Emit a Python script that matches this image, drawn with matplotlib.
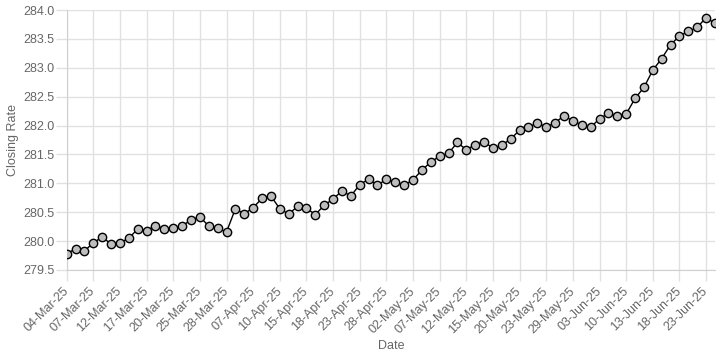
import matplotlib.pyplot as plt

plt.rcParams['font.family'] = ['Liberation Sans', 'DejaVu Sans']

dates = ['04-Mar-25', '05-Mar-25', '06-Mar-25', '07-Mar-25', '10-Mar-25', '11-Mar-25',
         '12-Mar-25', '13-Mar-25', '14-Mar-25', '17-Mar-25', '18-Mar-25', '19-Mar-25',
         '20-Mar-25', '21-Mar-25', '24-Mar-25', '25-Mar-25', '26-Mar-25', '27-Mar-25',
         '28-Mar-25', '02-Apr-25', '04-Apr-25', '07-Apr-25', '08-Apr-25', '09-Apr-25',
         '10-Apr-25', '11-Apr-25', '14-Apr-25', '15-Apr-25', '16-Apr-25', '17-Apr-25',
         '18-Apr-25', '21-Apr-25', '22-Apr-25', '23-Apr-25', '24-Apr-25', '25-Apr-25',
         '28-Apr-25', '29-Apr-25', '30-Apr-25', '02-May-25', '05-May-25', '06-May-25',
         '07-May-25', '08-May-25', '09-May-25', '12-May-25', '13-May-25', '14-May-25',
         '15-May-25', '16-May-25', '19-May-25', '20-May-25', '21-May-25', '22-May-25',
         '23-May-25', '27-May-25', '28-May-25', '29-May-25', '30-May-25', '02-Jun-25',
         '03-Jun-25', '05-Jun-25', '06-Jun-25', '10-Jun-25', '11-Jun-25', '12-Jun-25',
         '13-Jun-25', '16-Jun-25', '17-Jun-25', '18-Jun-25', '19-Jun-25', '20-Jun-25',
         '23-Jun-25', '24-Jun-25']

rates = [279.78, 279.87, 279.83, 279.97, 280.07, 279.95, 279.97, 280.05, 280.21, 280.18,
         280.27, 280.21, 280.22, 280.26, 280.37, 280.42, 280.26, 280.22, 280.16, 280.56,
         280.47, 280.58, 280.74, 280.78, 280.56, 280.47, 280.60, 280.57, 280.46, 280.62,
         280.73, 280.87, 280.78, 280.98, 281.07, 280.97, 281.07, 281.02, 280.97, 281.06,
         281.23, 281.37, 281.47, 281.52, 281.71, 281.58, 281.67, 281.72, 281.61, 281.66,
         281.77, 281.92, 281.97, 282.05, 281.97, 282.05, 282.17, 282.08, 282.01, 281.97,
         282.12, 282.21, 282.16, 282.20, 282.47, 282.66, 282.96, 283.16, 283.40, 283.55,
         283.63, 283.70, 283.87, 283.77]

fig = plt.figure(figsize=(7.2, 3.6), dpi=100)
ax = fig.add_axes([0.0926, 0.25, 0.9004, 0.722])

x = list(range(len(rates)))
ax.plot(x, rates, color='black', linewidth=1, marker='o', markersize=6,
        markerfacecolor='#bdbdbd', markeredgecolor='black', markeredgewidth=1, zorder=3)

ax.set_xlim(0, len(rates) - 1)
ax.set_ylim(279.5, 284.0)
ax.set_xticks(x[::3])
ax.set_xticklabels(dates[::3], rotation=45, ha='right', va='center', rotation_mode='anchor')
ax.set_yticks([279.5 + 0.5 * k for k in range(10)])
ax.yaxis.set_major_formatter(plt.FormatStrFormatter('%.1f'))

ax.grid(True, color='#e1e1e1', linewidth=1)
ax.set_axisbelow(True)
for s in ['top', 'right']:
    ax.spines[s].set_visible(False)
for s in ['left', 'bottom']:
    ax.spines[s].set_color('#d0d0d0')
ax.tick_params(colors='#666666', labelsize=9, length=8, width=1)
ax.tick_params(axis='both', color='#e1e1e1')
ax.tick_params(axis='y', pad=1)
ax.tick_params(axis='x', pad=6)

ax.set_xlabel('Date', color='#666666', fontsize=9, labelpad=3)
ax.set_ylabel('Closing Rate', color='#666666', fontsize=9, labelpad=3)

fig.savefig('out.png', dpi=100)
